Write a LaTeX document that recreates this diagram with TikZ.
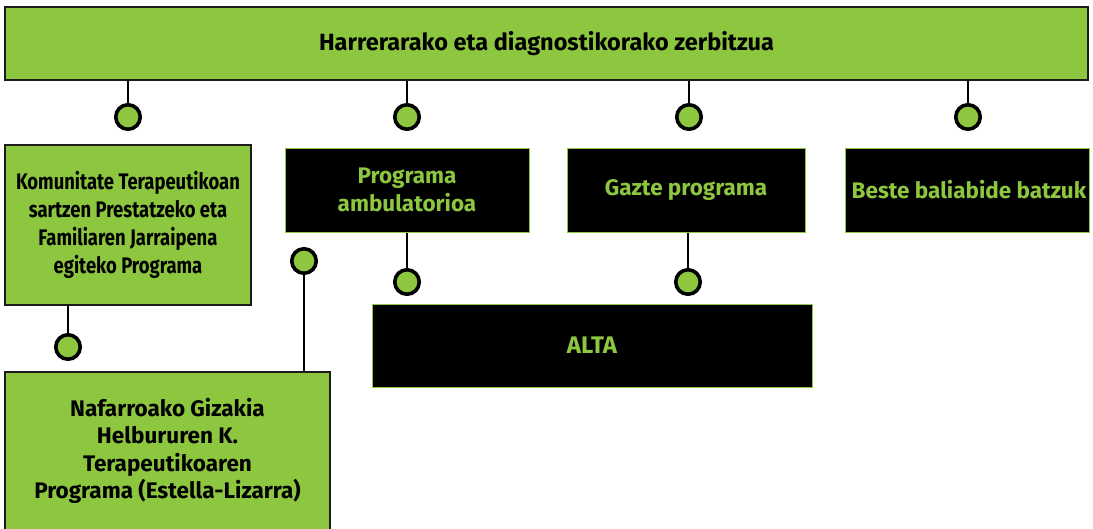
\documentclass[tikz,border=0pt]{standalone}
\usepackage{fontspec}
\setmainfont{Fira Sans}
\newfontfamily\dinfont[FakeStretch=0.82]{Fira Sans}
\usetikzlibrary{calc}
\definecolor{lime}{HTML}{8DC63F}
\definecolor{ink}{HTML}{1C1C1C}
\newcommand*{\lbl}{\fontsize{22.5}{27.5}\selectfont}
\newcommand*{\rowy}{190}
\newcommand*{\knoby}{117}

\begin{document}
\begin{tikzpicture}[x=1pt, y=-1pt, font=\bfseries\lbl,
    greenbox/.style={draw=ink, line width=1.4pt, fill=lime, text=black, align=center, inner sep=0pt},
    blackbox/.style={draw=lime, line width=1pt, fill=black, text=lime, align=center, inner sep=0pt, minimum height=84pt},
    knob/.style={circle, draw=black, line width=3.6pt, fill=lime, minimum size=24.5pt, inner sep=0pt},
    stem/.style={draw=black, line width=1.6pt}]
    \useasboundingbox [fill=white] (0,0) rectangle (1093,528);
    % top bar
    \node [greenbox, minimum width=1083pt, minimum height=73pt, font=\bfseries\fontsize{23.5}{28}\selectfont] (top) at (546.5,43.5) {Harrerarako eta diagnostikorako zerbitzua};
    % first row
    \node [greenbox, minimum width=246pt, minimum height=160pt, font=\dinfont\bfseries\fontsize{22.5}{28}\selectfont] (komun) at (128,225) {Komunitate Terapeutikoan\\sartzen Prestatzeko eta\\Familiaren Jarraipena\\egiteko Programa};
    \node [blackbox, minimum width=244pt] (ambul) at (407,\rowy) {Programa\\ambulatorioa};
    \node [blackbox, minimum width=238pt] (gazte) at (686,\rowy) {Gazte programa};
    \node [blackbox, minimum width=244pt] (beste) at (967,\rowy) {\hspace{4pt}Beste baliabide batzuk};
    % lower row
    \node [greenbox, minimum width=325pt, minimum height=158pt] (nafar) at (167.5,451) {Nafarroako Gizakia\\Helbururen K.\\Terapeutikoaren\\Programa (Estella-Lizarra)};
    \node [blackbox, minimum width=440pt, minimum height=83pt, font=\bfseries\fontsize{24}{28}\selectfont] (alta) at (592,345.5) {ALTA};
    % knobs
    \node [knob] (k1) at (128,\knoby) {};
    \node [knob] (k2) at (407,\knoby) {};
    \node [knob] (k3) at (689,\knoby) {};
    \node [knob] (k4) at (968,\knoby) {};
    \node [knob] (k5) at (68,347) {};
    \node [knob] (k6) at (304,261) {};
    \node [knob] (k7) at (407,282) {};
    \node [knob] (k8) at (688,282) {};
    % stems
    \foreach \k in {k1,k2,k3,k4}
        \draw [stem] (\k.north) -- (\k.north |- top.south);
    \draw [stem] (k5.north) -- (k5.north |- komun.south);
    \draw [stem] (k6.south) -- (k6.south |- nafar.north);
    \draw [stem] (k7.north) -- (k7.north |- ambul.south);
    \draw [stem] (k8.north) -- (k8.north |- gazte.south);
\end{tikzpicture}
\end{document}
